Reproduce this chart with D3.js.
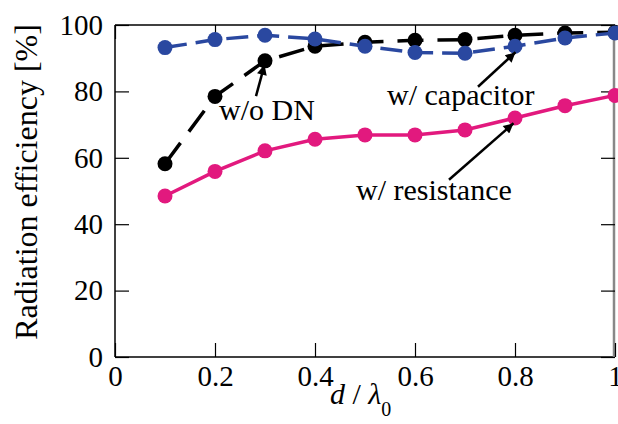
<!DOCTYPE html>
<html>
<head>
<meta charset="utf-8">
<script src="https://cdn.jsdelivr.net/npm/d3@7"></script>
<style>
  body { margin: 0; background: #fff; }
</style>
</head>
<body>
<div class="chart"></div>
<script>
// d / lambda0 sweep
const xs = [0.1, 0.2, 0.3, 0.4, 0.5, 0.6, 0.7, 0.8, 0.9, 1.0];
const woDN = [58.2, 78.5, 89.2, 93.6, 94.8, 95.4, 95.6, 96.9, 97.6, 97.8];
const wCapacitor = [93.2, 95.6, 96.9, 95.8, 93.6, 91.7, 91.5, 93.6, 96.1, 97.6];
const wResistance = [48.5, 55.9, 62.1, 65.6, 66.9, 66.9, 68.4, 72.0, 75.7, 78.8];

const xTicks = [0, 0.2, 0.4, 0.6, 0.8, 1];
const yTicks = [0, 20, 40, 60, 80, 100];

// annotation text + arrow (data coords)
const notes = [
  { text: "w/o DN", tx: 0.208, ty: 71.4, x1: 0.282, y1: 78.6, x2: 0.299, y2: 88.0 },
  { text: "w/ capacitor", tx: 0.544, ty: 76.0, x1: 0.726, y1: 81.4, x2: 0.801, y2: 91.8 },
  { text: "w/ resistance", tx: 0.482, ty: 47.3, x1: 0.668, y1: 53.4, x2: 0.797, y2: 70.4 }
];

const FONT = "Liberation Serif";

const width = 618, height = 424;
const margin = { top: 25, right: 3, bottom: 67, left: 115 };

const svg = d3.select(".chart").append("svg")
  .attr("width", width)
  .attr("height", height)
  .attr("font-family", FONT);

const x = d3.scaleLinear().domain([0, 1]).range([margin.left, width - margin.right]);
const y = d3.scaleLinear().domain([0, 100]).range([height - margin.bottom, margin.top]);

const tickLen = 14;

// frame
svg.append("line").attr("x1", x(0)).attr("x2", x(1)).attr("y1", y(100)).attr("y2", y(100))
  .attr("stroke", "#000").attr("stroke-width", 1.5);
svg.append("line").attr("x1", x(0)).attr("x2", x(1)).attr("y1", y(0)).attr("y2", y(0))
  .attr("stroke", "#000").attr("stroke-width", 1.5);
svg.append("line").attr("x1", x(0)).attr("x2", x(0)).attr("y1", y(0)).attr("y2", y(100))
  .attr("stroke", "#000").attr("stroke-width", 1.5);
svg.append("line").attr("x1", x(1) - 1).attr("x2", x(1) - 1).attr("y1", y(0)).attr("y2", y(100))
  .attr("stroke", "#888").attr("stroke-width", 2.5);

// axes with inward ticks
const xAxis = g => g
  .attr("transform", `translate(0,${y(0)})`)
  .call(d3.axisBottom(x).tickValues(xTicks).tickSize(-tickLen).tickPadding(8)
    .tickFormat(d => d === 0 ? "0" : d === 1 ? "1" : d3.format(".1f")(d)))
  .call(g => g.select(".domain").remove())
  .call(g => g.selectAll(".tick line").attr("stroke", "#000").attr("stroke-width", 1.2))
  .call(g => g.selectAll(".tick text").attr("font-size", 29).attr("dy", "0.71em"));

const xAxisTop = g => g
  .attr("transform", `translate(0,${y(100)})`)
  .call(d3.axisTop(x).tickValues(xTicks).tickSize(-tickLen).tickFormat(""))
  .call(g => g.select(".domain").remove())
  .call(g => g.selectAll(".tick line").attr("stroke", "#000").attr("stroke-width", 1.2));

const yAxis = g => g
  .attr("transform", `translate(${x(0)},0)`)
  .call(d3.axisLeft(y).tickValues(yTicks).tickSize(-tickLen).tickPadding(12))
  .call(g => g.select(".domain").remove())
  .call(g => g.selectAll(".tick line").attr("stroke", "#000").attr("stroke-width", 1.2))
  .call(g => g.selectAll(".tick text").attr("font-size", 29));

const yAxisRight = g => g
  .attr("transform", `translate(${x(1)},0)`)
  .call(d3.axisRight(y).tickValues(yTicks).tickSize(-tickLen).tickFormat(""))
  .call(g => g.select(".domain").remove())
  .call(g => g.selectAll(".tick line").attr("stroke", "#000").attr("stroke-width", 1.2));

svg.append("g").call(xAxis);
svg.append("g").call(xAxisTop);
svg.append("g").call(yAxis);
svg.append("g").call(yAxisRight);

svg.selectAll("g").attr("font-family", FONT);

// axis titles
svg.append("text")
  .attr("transform", `translate(37,${182}) rotate(-90)`)
  .attr("text-anchor", "middle")
  .attr("font-size", 32)
  .text("Radiation efficiency [%]");

const xt = svg.append("text")
  .attr("x", 330).attr("y", 404)
  .attr("font-size", 30);
xt.append("tspan").attr("font-style", "italic").text("d");
xt.append("tspan").text(" / ");
xt.append("tspan").attr("font-style", "italic").text("λ");
xt.append("tspan").attr("font-size", 20).attr("dy", 12).text("0");

// series
const line = d3.line().x(d => x(d[0])).y(d => y(d[1]));

const series = [
  { vals: wResistance, color: "#e2197e", dash: null },
  { vals: woDN, color: "#000000", dash: "26,14" },
  { vals: wCapacitor, color: "#2a48a0", dash: "22,9" }
];

series.forEach(s => {
  const pts = xs.map((v, i) => [v, s.vals[i]]);
  svg.append("path")
    .datum(pts)
    .attr("fill", "none")
    .attr("stroke", s.color)
    .attr("stroke-width", 3.5)
    .attr("stroke-dasharray", s.dash)
    .attr("d", line);
  svg.append("g")
    .selectAll("circle")
    .data(pts)
    .join("circle")
    .attr("cx", d => x(d[0]))
    .attr("cy", d => y(d[1]))
    .attr("r", 7.5)
    .attr("fill", s.color);
});

// annotations
svg.append("defs").append("marker")
  .attr("id", "arrow")
  .attr("viewBox", "0 0 10 10")
  .attr("refX", 10).attr("refY", 5)
  .attr("markerWidth", 5).attr("markerHeight", 4)
  .attr("markerUnits", "strokeWidth")
  .attr("orient", "auto")
  .append("path")
  .attr("d", "M0,0 L10,5 L0,10 Z")
  .attr("fill", "#000");

notes.forEach(n => {
  svg.append("line")
    .attr("x1", x(n.x1)).attr("y1", y(n.y1))
    .attr("x2", x(n.x2)).attr("y2", y(n.y2))
    .attr("stroke", "#000")
    .attr("stroke-width", 2.5)
    .attr("marker-end", "url(#arrow)");
  svg.append("text")
    .attr("x", x(n.tx)).attr("y", y(n.ty))
    .attr("font-size", 30)
    .text(n.text);
});
</script>
</body>
</html>
